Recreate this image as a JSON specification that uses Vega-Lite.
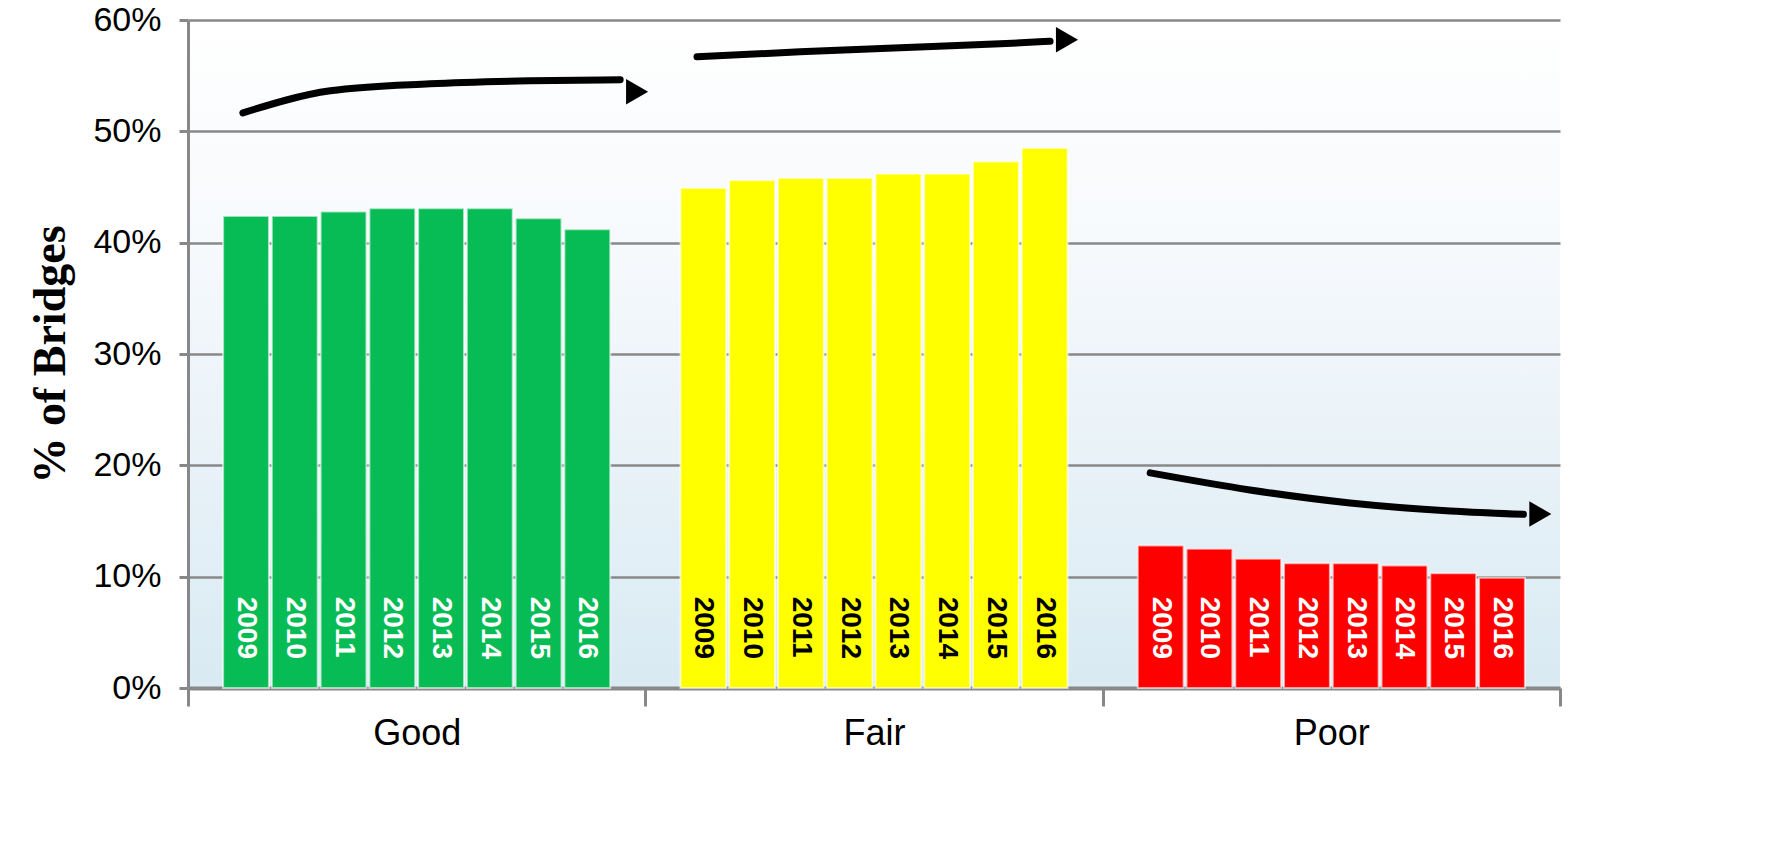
{
  "$schema": "https://vega.github.io/schema/vega-lite/v6.json",
  "autosize": "none",
  "width": 1372,
  "height": 668,
  "padding": {"left": 188, "top": 20, "right": 215, "bottom": 163},
  "background": "white",
  "config": {
    "view": {
      "stroke": null,
      "fill": {"gradient": "linear", "x1": 0, "y1": 0, "x2": 0, "y2": 1,
        "stops": [{"offset": 0, "color": "#ffffff"}, {"offset": 0.35, "color": "#f6f9fc"}, {"offset": 1, "color": "#d9eaf3"}]}
    }
  },
  "datasets": {
    "bars": [
      {"condition": "Good", "year": "2009", "share": 0.424},
      {"condition": "Good", "year": "2010", "share": 0.424},
      {"condition": "Good", "year": "2011", "share": 0.428},
      {"condition": "Good", "year": "2012", "share": 0.431},
      {"condition": "Good", "year": "2013", "share": 0.431},
      {"condition": "Good", "year": "2014", "share": 0.431},
      {"condition": "Good", "year": "2015", "share": 0.422},
      {"condition": "Good", "year": "2016", "share": 0.412},
      {"condition": "Fair", "year": "2009", "share": 0.449},
      {"condition": "Fair", "year": "2010", "share": 0.456},
      {"condition": "Fair", "year": "2011", "share": 0.458},
      {"condition": "Fair", "year": "2012", "share": 0.458},
      {"condition": "Fair", "year": "2013", "share": 0.462},
      {"condition": "Fair", "year": "2014", "share": 0.462},
      {"condition": "Fair", "year": "2015", "share": 0.473},
      {"condition": "Fair", "year": "2016", "share": 0.485},
      {"condition": "Poor", "year": "2009", "share": 0.128},
      {"condition": "Poor", "year": "2010", "share": 0.125},
      {"condition": "Poor", "year": "2011", "share": 0.116},
      {"condition": "Poor", "year": "2012", "share": 0.112},
      {"condition": "Poor", "year": "2013", "share": 0.112},
      {"condition": "Poor", "year": "2014", "share": 0.110},
      {"condition": "Poor", "year": "2015", "share": 0.103},
      {"condition": "Poor", "year": "2016", "share": 0.099}
    ],
    "trend": [
      {"arrow": "Good", "pos": 0.120, "share": 0.5166},
      {"arrow": "Good", "pos": 0.311, "share": 0.5364},
      {"arrow": "Good", "pos": 0.529, "share": 0.5427},
      {"arrow": "Good", "pos": 0.748, "share": 0.5454},
      {"arrow": "Good", "pos": 0.945, "share": 0.5463},
      {"arrow": "Fair", "pos": 1.113, "share": 0.5669},
      {"arrow": "Fair", "pos": 1.338, "share": 0.5714},
      {"arrow": "Fair", "pos": 1.557, "share": 0.5750},
      {"arrow": "Fair", "pos": 1.776, "share": 0.5786},
      {"arrow": "Fair", "pos": 1.885, "share": 0.5809},
      {"arrow": "Poor", "pos": 2.104, "share": 0.1932},
      {"arrow": "Poor", "pos": 2.322, "share": 0.1779},
      {"arrow": "Poor", "pos": 2.541, "share": 0.1662},
      {"arrow": "Poor", "pos": 2.760, "share": 0.1590},
      {"arrow": "Poor", "pos": 2.920, "share": 0.1560}
    ],
    "heads": [
      {"arrow": "Good", "pos": 0.982, "share": 0.5355},
      {"arrow": "Fair", "pos": 1.922, "share": 0.5822},
      {"arrow": "Poor", "pos": 2.957, "share": 0.1563}
    ]
  },
  "layer": [
    {
      "data": {"name": "bars"},
      "encoding": {
        "x": {"field": "condition", "type": "nominal", "sort": ["Good", "Fair", "Poor"],
          "scale": {"paddingInner": 0, "paddingOuter": 0},
          "axis": {"title": null, "labelAngle": 0, "tickBand": "extent", "labelFont": "Liberation Sans", "labelFontSize": 36, "labelColor": "#000000", "labelPadding": 10,
            "domainColor": "#888888", "domainWidth": 4, "tickColor": "#888888", "tickWidth": 3, "tickSize": 18}},
        "xOffset": {"field": "year", "type": "nominal", "scale": {"paddingInner": 0.06, "paddingOuter": 0.72}}
      },
      "layer": [
        {
          "mark": {"type": "bar", "stroke": "#ffffff", "strokeOpacity": 0.6, "strokeWidth": 2},
          "encoding": {
            "y": {"field": "share", "type": "quantitative",
              "scale": {"domain": [0, 0.6], "nice": false},
              "axis": {"values": [0, 0.1, 0.2, 0.3, 0.4, 0.5, 0.6], "format": ".0%", "title": "% of Bridges",
                "titleFont": "Liberation Serif", "titleFontWeight": "bold", "titleFontSize": 46, "titleColor": "#000000", "titlePadding": 18,
                "labelFont": "Liberation Sans", "labelFontSize": 34, "labelColor": "#000000", "labelPadding": 18,
                "domainColor": "#888888", "domainWidth": 3, "tickColor": "#888888", "tickWidth": 3, "tickSize": 9,
                "grid": true, "gridColor": "#888888", "gridWidth": 2.5}},
            "color": {"field": "condition", "type": "nominal", "legend": null,
              "scale": {"domain": ["Good", "Fair", "Poor"], "range": ["#07bb55", "#ffff00", "#ff0000"]}}
          }
        },
        {
          "mark": {"type": "text", "angle": 90, "align": "left", "baseline": "middle", "font": "Liberation Sans", "fontWeight": "bold", "fontSize": 28},
          "encoding": {
            "y": {"datum": 0.082},
            "text": {"field": "year"},
            "color": {"field": "condition", "type": "nominal", "legend": null,
              "scale": {"domain": ["Good", "Fair", "Poor"], "range": ["#ffffff", "#000000", "#ffffff"]}}
          }
        }
      ],
      "resolve": {"scale": {"color": "independent"}}
    },
    {
      "encoding": {
        "x": {"field": "pos", "type": "quantitative", "scale": {"domain": [0, 3], "nice": false, "zero": false}, "axis": null},
        "y": {"field": "share", "type": "quantitative"}
      },
      "layer": [
        {
          "data": {"name": "trend"},
          "mark": {"type": "line", "color": "#000000", "strokeWidth": 7, "interpolate": "monotone", "strokeCap": "round"},
          "encoding": {"detail": {"field": "arrow"}}
        },
        {
          "data": {"name": "heads"},
          "mark": {"type": "point", "shape": "triangle-right", "filled": true, "color": "#000000", "opacity": 1, "size": 650}
        }
      ]
    }
  ],
  "resolve": {"scale": {"x": "independent", "color": "independent"}, "axis": {"x": "independent"}}
}
